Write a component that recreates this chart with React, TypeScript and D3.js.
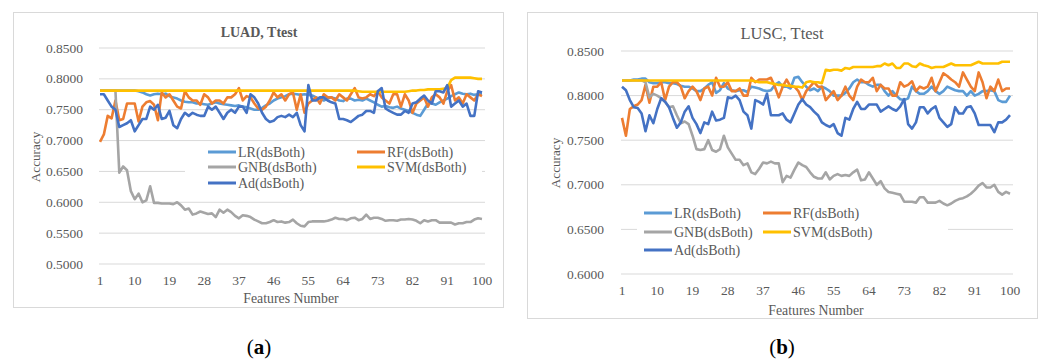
import * as d3 from "d3";

// feature counts 1..100
const features = Array.from({ length: 100 }, (_, i) => i + 1);
const xTickValues = [1, 10, 19, 28, 37, 46, 55, 64, 73, 82, 91, 100];

const seriesNames = ["LR(dsBoth)", "RF(dsBoth)", "GNB(dsBoth)", "SVM(dsBoth)", "Ad(dsBoth)"];
const seriesColors = ["#5B9BD5", "#ED7D31", "#A5A5A5", "#FFC000", "#4472C4"];

// ---- LUAD, Ttest ----
const luadLR = [
  0.781, 0.781, 0.781, 0.781, 0.781, 0.781, 0.781, 0.781, 0.781, 0.781,
  0.780, 0.778, 0.775, 0.773, 0.775, 0.776, 0.775, 0.776, 0.772, 0.770,
  0.768, 0.765, 0.763, 0.762, 0.762, 0.760, 0.760, 0.759, 0.758, 0.760,
  0.762, 0.760, 0.759, 0.758, 0.757, 0.756, 0.757, 0.755, 0.754, 0.752,
  0.750, 0.750, 0.753, 0.757, 0.760, 0.765, 0.768, 0.770, 0.772, 0.775,
  0.776, 0.775, 0.774, 0.775, 0.774, 0.773, 0.770, 0.768, 0.765, 0.768,
  0.770, 0.768, 0.765, 0.764, 0.768, 0.768, 0.765, 0.766, 0.765, 0.768,
  0.765, 0.762, 0.758, 0.755, 0.756, 0.754, 0.753, 0.755, 0.752, 0.750,
  0.748, 0.745, 0.742, 0.740, 0.750, 0.760, 0.760, 0.758, 0.762, 0.765,
  0.768, 0.772, 0.775, 0.778, 0.776, 0.775, 0.776, 0.774, 0.775, 0.775,
];
const luadRF = [
  0.698, 0.710, 0.740, 0.736, 0.765, 0.733, 0.735, 0.760, 0.760, 0.760,
  0.731, 0.755, 0.762, 0.764, 0.758, 0.733, 0.778, 0.770, 0.775, 0.765,
  0.755, 0.752, 0.780, 0.770, 0.765, 0.765, 0.758, 0.775, 0.770, 0.760,
  0.765, 0.765, 0.760, 0.770, 0.770, 0.775, 0.785, 0.765, 0.772, 0.770,
  0.760, 0.752, 0.750, 0.755, 0.765, 0.778, 0.770, 0.775, 0.765, 0.775,
  0.778, 0.750, 0.775, 0.745, 0.760, 0.765, 0.770, 0.760, 0.775, 0.770,
  0.770, 0.765, 0.775, 0.770, 0.765, 0.775, 0.785, 0.770, 0.768, 0.770,
  0.775, 0.772, 0.780, 0.770, 0.765, 0.760, 0.775, 0.775, 0.755, 0.775,
  0.765, 0.745, 0.760, 0.765, 0.770, 0.755, 0.770, 0.775, 0.770, 0.760,
  0.780, 0.790, 0.765, 0.770, 0.760, 0.775, 0.770, 0.765, 0.775, 0.772,
];
const luadGNB = [
  0.781, 0.781, 0.781, 0.781, 0.781, 0.648, 0.658, 0.652, 0.618, 0.605,
  0.614, 0.600, 0.603, 0.626, 0.599, 0.599, 0.598, 0.598, 0.598, 0.597,
  0.600, 0.595, 0.588, 0.590, 0.580, 0.582, 0.585, 0.583, 0.581, 0.582,
  0.576, 0.588, 0.583, 0.588, 0.584, 0.578, 0.574, 0.579, 0.578, 0.576,
  0.572, 0.569, 0.566, 0.566, 0.568, 0.571, 0.568, 0.569, 0.567, 0.568,
  0.572, 0.566, 0.562, 0.561, 0.568, 0.569, 0.569, 0.569, 0.569, 0.570,
  0.572, 0.575, 0.573, 0.573, 0.571, 0.574, 0.575, 0.571, 0.573, 0.580,
  0.573, 0.575, 0.575, 0.573, 0.570, 0.571, 0.571, 0.570, 0.572, 0.572,
  0.573, 0.572, 0.570, 0.566, 0.571, 0.569, 0.571, 0.571, 0.567, 0.567,
  0.567, 0.567, 0.564, 0.566, 0.566, 0.568, 0.568, 0.572, 0.574, 0.573,
];
const luadSVM = [
  0.781, 0.781, 0.781, 0.781, 0.781, 0.781, 0.781, 0.781, 0.781, 0.781,
  0.781, 0.781, 0.781, 0.781, 0.781, 0.781, 0.781, 0.781, 0.781, 0.781,
  0.781, 0.781, 0.781, 0.781, 0.781, 0.781, 0.781, 0.781, 0.781, 0.781,
  0.781, 0.781, 0.781, 0.781, 0.781, 0.781, 0.781, 0.781, 0.781, 0.781,
  0.781, 0.781, 0.781, 0.781, 0.781, 0.781, 0.781, 0.781, 0.781, 0.781,
  0.781, 0.781, 0.781, 0.781, 0.781, 0.781, 0.781, 0.781, 0.781, 0.781,
  0.781, 0.781, 0.781, 0.781, 0.781, 0.781, 0.781, 0.780, 0.779, 0.779,
  0.779, 0.779, 0.779, 0.779, 0.779, 0.779, 0.779, 0.779, 0.779, 0.779,
  0.780, 0.781, 0.781, 0.782, 0.782, 0.783, 0.783, 0.783, 0.783, 0.784,
  0.785, 0.798, 0.802, 0.802, 0.802, 0.802, 0.802, 0.801, 0.800, 0.800,
];
const luadAd = [
  0.775, 0.775, 0.765, 0.755, 0.750, 0.722, 0.725, 0.728, 0.733, 0.715,
  0.725, 0.735, 0.735, 0.755, 0.750, 0.758, 0.735, 0.737, 0.748, 0.725,
  0.720, 0.735, 0.745, 0.740, 0.745, 0.742, 0.740, 0.740, 0.755, 0.750,
  0.755, 0.745, 0.735, 0.745, 0.750, 0.745, 0.755, 0.755, 0.745, 0.775,
  0.770, 0.760, 0.745, 0.735, 0.730, 0.732, 0.738, 0.740, 0.738, 0.742,
  0.738, 0.745, 0.725, 0.715, 0.790, 0.765, 0.765, 0.770, 0.770, 0.765,
  0.762, 0.760, 0.735, 0.735, 0.733, 0.730, 0.735, 0.740, 0.742, 0.748,
  0.748, 0.745, 0.780, 0.785, 0.752, 0.748, 0.745, 0.742, 0.742, 0.748,
  0.745, 0.760, 0.762, 0.768, 0.773, 0.765, 0.760, 0.780, 0.780, 0.778,
  0.790, 0.755, 0.760, 0.765, 0.755, 0.760, 0.740, 0.740, 0.780, 0.778,
];

// ---- LUSC, Ttest ----
const luscLR = [
  0.817, 0.817, 0.817, 0.818, 0.818, 0.819, 0.819, 0.815, 0.814, 0.814,
  0.815, 0.815, 0.814, 0.814, 0.813, 0.811, 0.810, 0.810, 0.808, 0.805,
  0.805, 0.808, 0.812, 0.815, 0.803, 0.806, 0.814, 0.808, 0.806, 0.805,
  0.806, 0.806, 0.804, 0.810, 0.809, 0.808, 0.806, 0.805, 0.806, 0.812,
  0.815, 0.810, 0.810, 0.808, 0.820, 0.821, 0.815, 0.810, 0.806, 0.808,
  0.805, 0.810, 0.808, 0.805, 0.800, 0.800, 0.800, 0.803, 0.808, 0.815,
  0.818, 0.815, 0.815, 0.812, 0.810, 0.812, 0.812, 0.805, 0.800, 0.805,
  0.800, 0.796, 0.795, 0.797, 0.810, 0.805, 0.802, 0.802, 0.805, 0.810,
  0.805, 0.802, 0.805, 0.810, 0.808, 0.806, 0.805, 0.805, 0.800, 0.805,
  0.800, 0.802, 0.805, 0.805, 0.806, 0.805, 0.795, 0.793, 0.793, 0.800,
];
const luscRF = [
  0.775, 0.755, 0.785, 0.788, 0.790, 0.795, 0.812, 0.792, 0.810, 0.810,
  0.815, 0.795, 0.810, 0.815, 0.815, 0.810, 0.797, 0.805, 0.810, 0.805,
  0.795, 0.808, 0.810, 0.800, 0.820, 0.810, 0.810, 0.815, 0.805, 0.805,
  0.808, 0.800, 0.800, 0.820, 0.815, 0.818, 0.818, 0.818, 0.820, 0.810,
  0.798, 0.810, 0.818, 0.810, 0.810, 0.805, 0.795, 0.805, 0.810, 0.815,
  0.810, 0.810, 0.795, 0.800, 0.805, 0.795, 0.800, 0.810, 0.800, 0.795,
  0.810, 0.818, 0.815, 0.815, 0.820, 0.805, 0.812, 0.808, 0.808, 0.800,
  0.800, 0.815, 0.810, 0.812, 0.816, 0.805, 0.810, 0.808, 0.810, 0.820,
  0.805, 0.815, 0.825, 0.822, 0.818, 0.815, 0.810, 0.826, 0.818, 0.810,
  0.805, 0.826, 0.815, 0.797, 0.810, 0.805, 0.818, 0.805, 0.808, 0.808,
];
const luscGNB = [
  0.817, 0.817, 0.817, 0.817, 0.817, 0.817, 0.815, 0.798, 0.802, 0.800,
  0.797, 0.793, 0.787, 0.788, 0.778, 0.769, 0.771, 0.768, 0.755, 0.740,
  0.739, 0.740, 0.750, 0.739, 0.737, 0.740, 0.755, 0.742, 0.735, 0.728,
  0.728, 0.722, 0.724, 0.714, 0.712, 0.718, 0.725, 0.724, 0.726, 0.724,
  0.724, 0.703, 0.710, 0.708, 0.717, 0.725, 0.722, 0.720, 0.714, 0.709,
  0.707, 0.707, 0.714, 0.706, 0.710, 0.712, 0.710, 0.711, 0.710, 0.714,
  0.717, 0.705, 0.706, 0.714, 0.707, 0.700, 0.704, 0.696, 0.692, 0.691,
  0.690, 0.689, 0.681, 0.681, 0.681, 0.680, 0.686, 0.686, 0.680, 0.680,
  0.680, 0.682, 0.679, 0.677, 0.679, 0.682, 0.684, 0.685, 0.687, 0.690,
  0.694, 0.699, 0.702, 0.697, 0.697, 0.700, 0.692, 0.689, 0.692, 0.690,
];
const luscSVM = [
  0.817, 0.817, 0.817, 0.817, 0.817, 0.817, 0.817, 0.817, 0.817, 0.817,
  0.817, 0.817, 0.817, 0.817, 0.817, 0.817, 0.817, 0.817, 0.817, 0.817,
  0.817, 0.817, 0.817, 0.817, 0.817, 0.817, 0.817, 0.817, 0.817, 0.817,
  0.817, 0.817, 0.817, 0.817, 0.816, 0.815, 0.815, 0.815, 0.814, 0.813,
  0.812, 0.812, 0.811, 0.811, 0.810, 0.810, 0.809, 0.815, 0.816, 0.815,
  0.815, 0.814, 0.829, 0.828, 0.829, 0.829, 0.828, 0.831, 0.830, 0.832,
  0.832, 0.832, 0.832, 0.832, 0.832, 0.833, 0.833, 0.836, 0.834, 0.836,
  0.831, 0.831, 0.836, 0.836, 0.833, 0.832, 0.836, 0.834, 0.833, 0.831,
  0.832, 0.832, 0.832, 0.834, 0.836, 0.834, 0.834, 0.834, 0.834, 0.834,
  0.836, 0.838, 0.836, 0.836, 0.836, 0.836, 0.836, 0.838, 0.838, 0.838,
];
const luscAd = [
  0.810, 0.806, 0.795, 0.787, 0.786, 0.780, 0.760, 0.778, 0.769, 0.785,
  0.797, 0.793, 0.787, 0.775, 0.764, 0.770, 0.782, 0.788, 0.775, 0.768,
  0.758, 0.770, 0.768, 0.782, 0.772, 0.773, 0.775, 0.798, 0.797, 0.800,
  0.795, 0.782, 0.778, 0.763, 0.795, 0.793, 0.790, 0.802, 0.778, 0.778,
  0.778, 0.780, 0.773, 0.770, 0.780, 0.790, 0.796, 0.790, 0.787, 0.782,
  0.778, 0.770, 0.767, 0.765, 0.768, 0.758, 0.755, 0.775, 0.773, 0.785,
  0.793, 0.785, 0.785, 0.790, 0.790, 0.790, 0.782, 0.785, 0.788, 0.785,
  0.783, 0.788, 0.796, 0.768, 0.763, 0.770, 0.787, 0.787, 0.780, 0.785,
  0.788, 0.775, 0.770, 0.765, 0.768, 0.787, 0.780, 0.780, 0.787, 0.788,
  0.780, 0.767, 0.767, 0.767, 0.767, 0.759, 0.770, 0.770, 0.773, 0.778,
];

const luadYTicks = [0.5, 0.55, 0.6, 0.65, 0.7, 0.75, 0.8, 0.85];
const luscYTicks = [0.6, 0.65, 0.7, 0.75, 0.8, 0.85];

const FONT = "'Liberation Serif', 'Times New Roman', serif";
const TEXT = "#595959";
const GRID = "#d9d9d9";
const fmt = d3.format(".4f");

type PanelProps = {
  title: string;
  boldTitle: boolean;
  titleSize: number;
  series: number[][];
  yTicks: number[];
  frame: [number, number, number, number];
  xRange: [number, number];
  yRange: [number, number];
  gridX: [number, number];
  yLabelX: number;
  xLabelY: number;
  axisTitleY: number;
  accX: number;
  accY: number;
  titleX: number;
  titleY: number;
  legendBox: [number, number, number, number];
  legendCols: [number, number];
  legendRows: [number, number, number];
  tag: string;
  tagX: number;
};

function Panel(p: PanelProps) {
  const x = d3.scaleLinear().domain([1, 100]).range(p.xRange);
  const y = d3
    .scaleLinear()
    .domain([p.yTicks[0], p.yTicks[p.yTicks.length - 1]])
    .range(p.yRange);
  const line = d3
    .line<number>()
    .x((_, i) => x(features[i]))
    .y((d) => y(d))
    .curve(d3.curveLinear);
  const [fx, fy, fw, fh] = p.frame;
  const [lx, ly, lw, lh] = p.legendBox;

  return (
    <g fontFamily={FONT} fill={TEXT}>
      <rect x={fx} y={fy} width={fw} height={fh} fill="#fff" stroke={GRID} strokeWidth={1} />
      <text
        x={p.titleX}
        y={p.titleY}
        textAnchor="middle"
        dominantBaseline="central"
        fontSize={p.titleSize}
        fontWeight={p.boldTitle ? "bold" : "normal"}
      >
        {p.title}
      </text>
      {p.yTicks.map((t) => (
        <g key={t}>
          <line x1={p.gridX[0]} x2={p.gridX[1]} y1={y(t)} y2={y(t)} stroke={GRID} strokeWidth={1} />
          <text
            x={p.yLabelX}
            y={y(t)}
            textAnchor="end"
            dominantBaseline="central"
            fontSize={13.5}
          >
            {fmt(t)}
          </text>
        </g>
      ))}
      {xTickValues.map((t) => (
        <text
          key={t}
          x={x(t)}
          y={p.xLabelY}
          textAnchor="middle"
          dominantBaseline="central"
          fontSize={13.5}
        >
          {t}
        </text>
      ))}
      <text
        x={(p.xRange[0] + p.xRange[1]) / 2}
        y={p.axisTitleY}
        textAnchor="middle"
        dominantBaseline="central"
        fontSize={13.8}
      >
        Features Number
      </text>
      <text
        transform={`translate(${p.accX},${p.accY}) rotate(-90)`}
        textAnchor="middle"
        dominantBaseline="central"
        fontSize={13.2}
      >
        Accuracy
      </text>
      <rect x={lx} y={ly} width={lw} height={lh} fill="#fff" />
      {p.series.map((s, i) => (
        <path
          key={seriesNames[i]}
          d={line(s) ?? ""}
          fill="none"
          stroke={seriesColors[i]}
          strokeWidth={2.6}
          strokeLinejoin="round"
        />
      ))}
      {seriesNames.map((name, i) => {
        const cx = p.legendCols[i % 2];
        const cy = p.legendRows[Math.floor(i / 2)];
        return (
          <g key={name}>
            <line x1={cx} x2={cx + 28} y1={cy} y2={cy} stroke={seriesColors[i]} strokeWidth={3} />
            <text x={cx + 30} y={cy} dominantBaseline="central" fontSize={14}>
              {name}
            </text>
          </g>
        );
      })}
      <text
        x={p.tagX}
        y={347}
        textAnchor="middle"
        dominantBaseline="central"
        fontSize={21}
        fill="#000"
      >
        (<tspan fontWeight="bold">{p.tag}</tspan>)
      </text>
    </g>
  );
}

export default function App() {
  return (
    <svg
      width={1044}
      height={361}
      style={{ position: "absolute", left: 0, top: 0, background: "#fff" }}
    >
      <Panel
        title="LUAD, Ttest"
        boldTitle={true}
        titleSize={14}
        series={[luadLR, luadRF, luadGNB, luadSVM, luadAd]}
        yTicks={luadYTicks}
        frame={[13.5, 12.5, 490, 295]}
        xRange={[100, 482]}
        yRange={[264, 48]}
        gridX={[99, 485]}
        yLabelX={83}
        xLabelY={280}
        axisTitleY={298}
        accX={35}
        accY={157}
        titleX={259}
        titleY={32}
        legendBox={[185, 144, 297, 51]}
        legendCols={[208, 357]}
        legendRows={[152, 167, 183]}
        tag="a"
        tagX={259}
      />
      <Panel
        title="LUSC, Ttest"
        boldTitle={false}
        titleSize={16.5}
        series={[luscLR, luscRF, luscGNB, luscSVM, luscAd]}
        yTicks={luscYTicks}
        frame={[527.5, 12.5, 510, 306]}
        xRange={[622, 1010]}
        yRange={[274, 51]}
        gridX={[621, 1013]}
        yLabelX={604}
        xLabelY={290}
        axisTitleY={310}
        accX={555}
        accY={163}
        titleX={782}
        titleY={33}
        legendBox={[637, 198, 311, 67]}
        legendCols={[644, 763]}
        legendRows={[213, 232, 250]}
        tag="b"
        tagX={782}
      />
    </svg>
  );
}
